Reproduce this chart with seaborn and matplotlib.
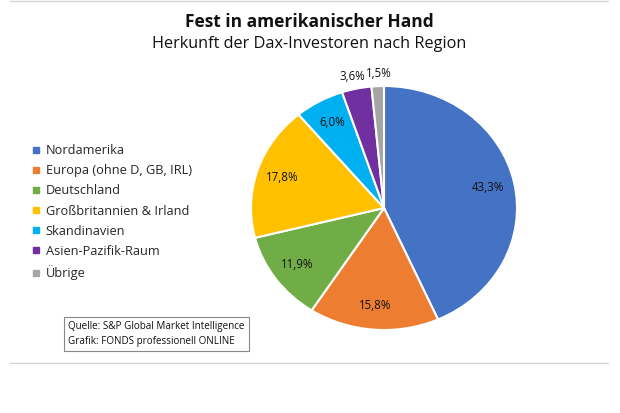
import numpy as np
import matplotlib.pyplot as plt
import seaborn as sns
from matplotlib.lines import Line2D
import matplotlib.transforms as mtransforms

regionen = ["Nordamerika", "Europa (ohne D, GB, IRL)", "Deutschland",
            "Großbritannien & Irland", "Skandinavien", "Asien-Pazifik-Raum", "Übrige"]
anteile = [43.3, 15.8, 11.9, 17.8, 6.0, 3.6, 1.5]
farben = ["#4472C4", "#ED7D31", "#70AD47", "#FFC000", "#00B0F0", "#7030A0", "#A5A5A5"]

sns.set_theme(style="white")
plt.rcParams["font.family"] = ["Open Sans", "DejaVu Sans"]
palette = sns.color_palette(farben)

W, H = 620, 413
fig = plt.figure(figsize=(6.2, 4.13), dpi=100)

# Kreis leicht gestreckt wie im Original
ax = fig.add_axes([251 / W, (H - 330) / H, 266 / W, 244 / H])
wedges, texts, autotexts = ax.pie(
    anteile, colors=palette, startangle=90, counterclock=False,
    autopct=lambda p: f"{p:.1f}%".replace(".", ","), pctdistance=0.8,
    wedgeprops=dict(edgecolor="white", linewidth=1.5),
    textprops=dict(fontsize=8.3, color="#111111"))
ax.set_aspect("auto")
ax.set_xlim(-1, 1)
ax.set_ylim(-1, 1)

# kleine Segmente: Beschriftung außerhalb
for i, (w, t) in enumerate(zip(wedges, autotexts)):
    if anteile[i] < 5:
        ang = np.deg2rad((w.theta1 + w.theta2) / 2)
        t.set_position((1.1 * np.cos(ang), 1.1 * np.sin(ang)))
        dx = -2 if anteile[i] > 2 else 2
        t.set_transform(t.get_transform() + mtransforms.ScaledTranslation(dx / 100, 0, fig.dpi_scale_trans))

# Titel
fig.text(309 / W, 1 - 22 / H, "Fest in amerikanischer Hand", ha="center", va="center",
         fontsize=12.5, fontweight="bold", color="#111111")
fig.text(309 / W, 1 - 44 / H, "Herkunft der Dax-Investoren nach Region", ha="center", va="center",
         fontsize=11.7, color="#111111")

# Legende
handles = [Line2D([0], [0], marker="s", linestyle="", markersize=4,
                  markerfacecolor=c, markeredgecolor=c) for c in farben]
fig.legend(handles, regionen, loc="upper left", bbox_to_anchor=(27 / W, 1 - 139 / H),
           frameon=False, fontsize=9.2, handlelength=0.6, handletextpad=0.45,
           labelspacing=0.56, borderaxespad=0)

# Quelle
fig.text(68 / W, 1 - 334 / H,
         "Quelle: S&P Global Market Intelligence\nGrafik: FONDS professionell ONLINE",
         ha="left", va="center", fontsize=7.1, color="#111111", linespacing=1.5,
         bbox=dict(boxstyle="square,pad=0.45", facecolor="white", edgecolor="#888888", linewidth=0.8))

# Trennlinien
fig.add_artist(Line2D([10 / W, 608 / W], [1 - 1 / H, 1 - 1 / H], color="#d4d4d4", linewidth=1))
fig.add_artist(Line2D([10 / W, 608 / W], [1 - 363 / H, 1 - 363 / H], color="#d4d4d4", linewidth=1))

fig.savefig("out.png", dpi=100)
